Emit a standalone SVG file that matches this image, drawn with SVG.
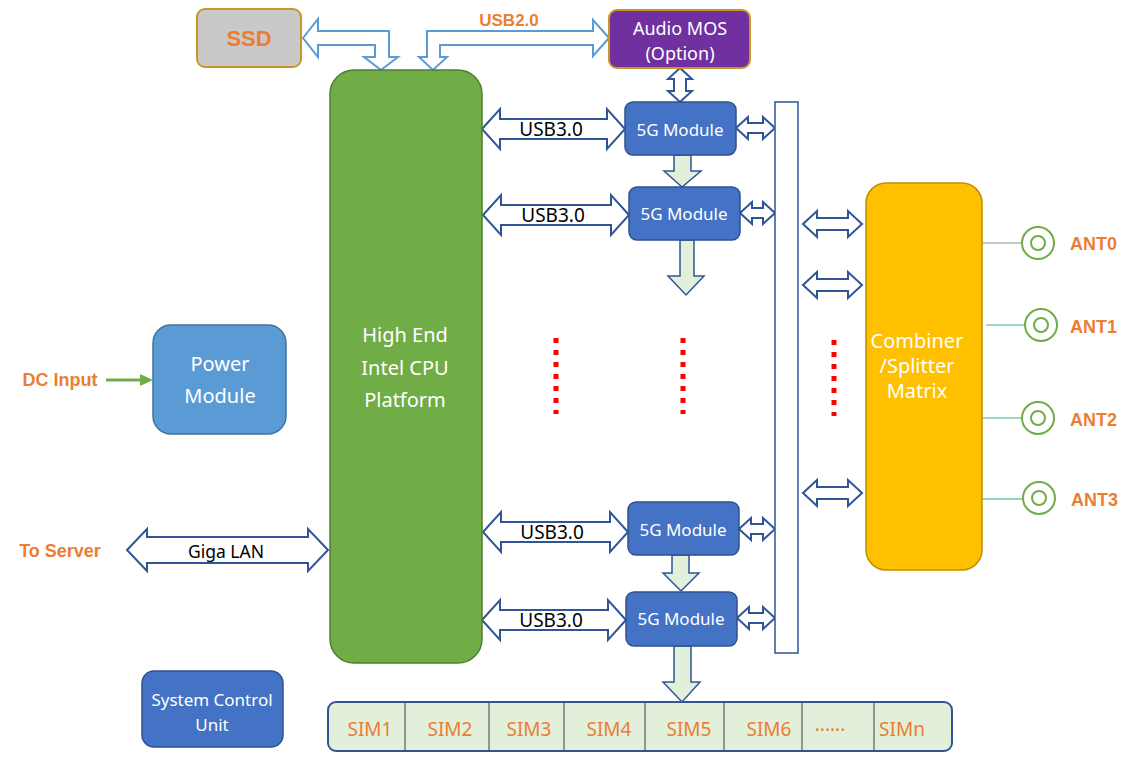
<svg xmlns="http://www.w3.org/2000/svg" width="1130" height="774" viewBox="0 0 1130 774">
<style>
text{font-family:"Noto Sans","Open Sans","Liberation Sans",sans-serif;}
.w{fill:#fff;font-size:20px;text-anchor:middle;}
.mod{fill:#4472c4;stroke:#2f528f;stroke-width:1.5;}
.mt{fill:#fff;font-size:17px;text-anchor:middle;}
.org{fill:#ed7d31;font-weight:bold;font-size:18px;font-family:"Liberation Sans",Arial,sans-serif;}
.dbl{fill:#fff;stroke:#2f5597;stroke-width:2;stroke-linejoin:miter;}
.lb{fill:#fff;stroke:#5b9bd5;stroke-width:2;}
.gd{fill:#e2efda;stroke:#2f5597;stroke-width:1.5;}
.blk{fill:#000;font-size:19px;text-anchor:middle;}
.dots{stroke:#ff0000;stroke-width:5;stroke-dasharray:5 7;fill:none;}
.ant{fill:#fff;stroke:#70ad47;stroke-width:2;}
.sim{fill:#ed7d31;font-size:19px;text-anchor:middle;}
</style>
<rect width="1130" height="774" fill="#fff"/>

<g id="connectors">
  <path class="lb" d="M303,38 L318,19 L318,31 L389,31 L389,57 L398,57 L381,70 L364,57 L375,57 L375,45 L318,45 L318,57 Z"/>
  <path class="lb" d="M609,38 L593,20 L593,31 L427,31 L427,57 L419,57 L433,70 L447,57 L440,57 L440,45 L593,45 L593,56 Z"/>
  <text class="org" x="509" y="26" text-anchor="middle" style="font-size:17px">USB2.0</text>
  <path class="dbl" d="M680,68 L692,79 L686,79 L686,91 L692,91 L680,102 L668,91 L674,91 L674,79 L668,79 Z"/>

  <path class="dbl" d="M482,129 L500,109 L500,119 L607,119 L607,109 L625,129 L607,149 L607,139 L500,139 L500,149 Z"/>
  <path class="dbl" d="M483,215 L501,195 L501,205 L611,205 L611,195 L629,215 L611,235 L611,225 L501,225 L501,235 Z"/>
  <path class="dbl" d="M483,532 L501,512 L501,522 L610,522 L610,512 L628,532 L610,552 L610,542 L501,542 L501,552 Z"/>
  <path class="dbl" d="M482,620 L500,600 L500,610 L608,610 L608,600 L626,620 L608,640 L608,630 L500,630 L500,640 Z"/>
  <text class="blk" x="551" y="136">USB3.0</text>
  <text class="blk" x="553" y="222">USB3.0</text>
  <text class="blk" x="552" y="539">USB3.0</text>
  <text class="blk" x="551" y="627">USB3.0</text>

  <path class="dbl" d="M127,550 L147,529 L147,537 L308,537 L308,529 L328,550 L308,571 L308,563 L147,563 L147,571 Z"/>
  <text x="226" y="558" style="fill:#000;font-size:17.5px;text-anchor:middle">Giga LAN</text>

  <path class="dbl" d="M736,128 L748,117 L748,123 L763,123 L763,117 L775,128 L763,139 L763,133 L748,133 L748,139 Z"/>
  <path class="dbl" d="M740,213 L752,202 L752,208 L763,208 L763,202 L775,213 L763,224 L763,218 L752,218 L752,224 Z"/>
  <path class="dbl" d="M739,529 L751,518 L751,524 L763,524 L763,518 L775,529 L763,540 L763,534 L751,534 L751,540 Z"/>
  <path class="dbl" d="M737,618 L749,607 L749,613 L763,613 L763,607 L775,618 L763,629 L763,623 L749,623 L749,629 Z"/>

  <path class="dbl" d="M803,224 L817,211 L817,218 L848,218 L848,211 L862,224 L848,237 L848,230 L817,230 L817,237 Z"/>
  <path class="dbl" d="M803,285 L817,272 L817,279 L848,279 L848,272 L862,285 L848,298 L848,291 L817,291 L817,298 Z"/>
  <path class="dbl" d="M803,493 L817,480 L817,487 L848,487 L848,480 L862,493 L848,506 L848,499 L817,499 L817,506 Z"/>

  <path class="gd" d="M674,155 L691,155 L691,171 L701,171 L682,187 L664,171 L674,171 Z"/>
  <path class="gd" d="M680,240 L694,240 L694,276 L704,276 L686,295 L668,276 L680,276 Z"/>
  <path class="gd" d="M672,555 L689,555 L689,573 L699,573 L681,591 L663,573 L672,573 Z"/>
  <path class="gd" d="M674,646 L691,646 L691,682 L700,682 L682,702 L663,682 L674,682 Z"/>

  <line class="dots" x1="556" y1="338" x2="556" y2="414"/>
  <line class="dots" x1="683" y1="338" x2="683" y2="414"/>
  <line class="dots" x1="834" y1="340" x2="834" y2="416"/>

  <line x1="106" y1="380" x2="142" y2="380" stroke="#70ad47" stroke-width="3"/>
  <path d="M140,374 L153,380 L140,386 Z" fill="#70ad47"/>

  <line x1="982" y1="243" x2="1022" y2="243" stroke="#7f9f7f" stroke-width="1"/>
  <line x1="986" y1="325" x2="1024" y2="325" stroke="#3cb371" stroke-width="1"/>
  <line x1="982" y1="418" x2="1022" y2="418" stroke="#3cb371" stroke-width="1"/>
  <line x1="982" y1="499" x2="1023" y2="499" stroke="#66cc99" stroke-width="1.5"/>
</g>

<g id="ssd">
  <rect x="197" y="9" width="104" height="58" rx="8" fill="#c9c9c9" stroke="#c9962a" stroke-width="2"/>
  <text x="249" y="46" style="fill:#ed7d31;font-weight:bold;font-size:22px;text-anchor:middle;font-family:'Liberation Sans',Arial,sans-serif">SSD</text>
</g>

<g id="audio">
  <rect x="609" y="10" width="141" height="58" rx="8" fill="#7030a0" stroke="#c9962a" stroke-width="2"/>
  <text class="mt" x="680" y="35" style="font-size:18px">Audio MOS</text>
  <text class="mt" x="680" y="60" style="font-size:18px">(Option)</text>
</g>

<g id="cpu">
  <rect x="330" y="70" width="152" height="593" rx="24" fill="#70ad47" stroke="#507e32" stroke-width="1.5"/>
  <text class="w" x="405" y="342">High End</text>
  <text class="w" x="405" y="375">Intel CPU</text>
  <text class="w" x="405" y="407">Platform</text>
</g>

<g id="mod1"><rect class="mod" x="625" y="102" width="111" height="53" rx="8"/><text class="mt" x="680" y="136">5G Module</text></g>
<g id="mod2"><rect class="mod" x="629" y="187" width="111" height="53" rx="8"/><text class="mt" x="684" y="220">5G Module</text></g>
<g id="mod3"><rect class="mod" x="628" y="502" width="111" height="53" rx="8"/><text class="mt" x="683" y="536">5G Module</text></g>
<g id="mod4"><rect class="mod" x="626" y="592" width="111" height="54" rx="8"/><text class="mt" x="681" y="625">5G Module</text></g>

<g id="bus">
  <rect x="775" y="102" width="23" height="551" fill="#fff" stroke="#2f5597" stroke-width="1.5"/>
</g>

<g id="combiner">
  <rect x="866" y="183" width="116" height="387" rx="20" fill="#ffc000" stroke="#bf9000" stroke-width="1.5"/>
  <text class="w" x="917" y="348">Combiner</text>
  <text class="w" x="917" y="373">/Splitter</text>
  <text class="w" x="917" y="398">Matrix</text>
</g>

<g id="ant0"><circle class="ant" cx="1038" cy="243" r="16"/><circle class="ant" cx="1038" cy="243" r="7"/><text class="org" x="1070" y="250">ANT0</text></g>
<g id="ant1"><circle class="ant" cx="1041" cy="325" r="16"/><circle class="ant" cx="1041" cy="325" r="7"/><text class="org" x="1070" y="333">ANT1</text></g>
<g id="ant2"><circle class="ant" cx="1038" cy="418" r="16"/><circle class="ant" cx="1038" cy="418" r="7"/><text class="org" x="1070" y="426">ANT2</text></g>
<g id="ant3"><circle class="ant" cx="1039" cy="498" r="16"/><circle class="ant" cx="1039" cy="498" r="7"/><text class="org" x="1071" y="506">ANT3</text></g>

<g id="power">
  <rect x="153" y="325" width="133" height="109" rx="18" fill="#5b9bd5" stroke="#41719c" stroke-width="1.5"/>
  <text class="w" x="220" y="371">Power</text>
  <text class="w" x="220" y="403">Module</text>
</g>
<g id="dcinput"><text class="org" x="60" y="386" text-anchor="middle">DC Input</text></g>
<g id="toserver"><text class="org" x="60" y="557" text-anchor="middle">To Server</text></g>

<g id="scu">
  <rect x="142" y="671" width="141" height="76" rx="12" fill="#4472c4" stroke="#2f528f" stroke-width="1.5"/>
  <text class="mt" x="212" y="706">System Control</text>
  <text class="mt" x="212" y="731">Unit</text>
</g>

<g id="sim">
  <rect x="328" y="702" width="624" height="49" rx="8" fill="#e2efda" stroke="#2f5597" stroke-width="2"/>
  <g stroke="#404040" stroke-width="1">
    <line x1="405" y1="703" x2="405" y2="750"/>
    <line x1="489" y1="703" x2="489" y2="750"/>
    <line x1="564" y1="703" x2="564" y2="750"/>
    <line x1="645" y1="703" x2="645" y2="750"/>
    <line x1="724" y1="703" x2="724" y2="750"/>
    <line x1="802" y1="703" x2="802" y2="750"/>
    <line x1="874" y1="703" x2="874" y2="750"/>
  </g>
  <text class="sim" x="370" y="736">SIM1</text>
  <text class="sim" x="450" y="736">SIM2</text>
  <text class="sim" x="529" y="736">SIM3</text>
  <text class="sim" x="609" y="736">SIM4</text>
  <text class="sim" x="689" y="736">SIM5</text>
  <text class="sim" x="769" y="736">SIM6</text>
  <text class="sim" x="830" y="731">......</text>
  <text class="sim" x="902" y="736">SIMn</text>
</g>
</svg>
